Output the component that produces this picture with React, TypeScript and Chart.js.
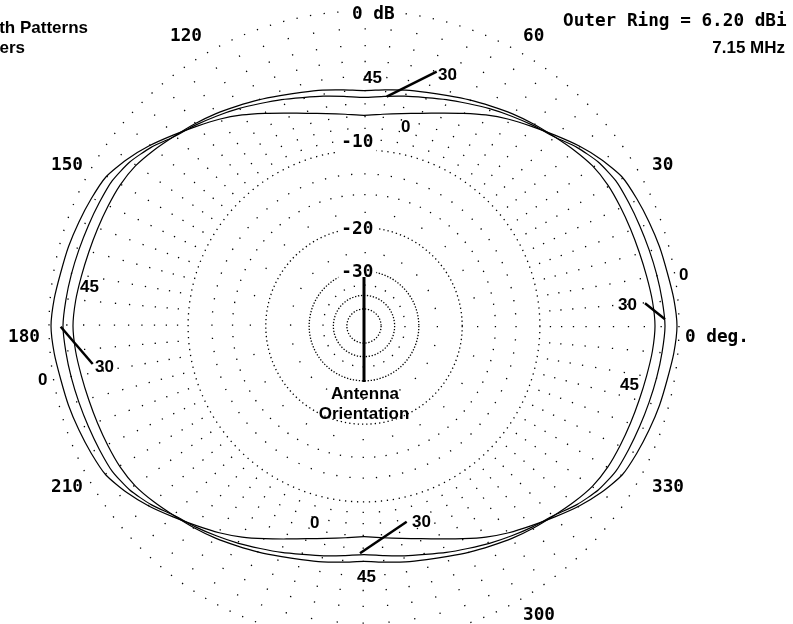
import React, { useEffect, useRef } from "react";
import { Chart, registerables } from "chart.js";

Chart.register(...registerables);

// ---------------- data ----------------
const AZIMUTH_DEG = [
  0, 5, 10, 15, 20, 25, 30, 35, 40, 45, 50, 55, 60, 65, 70, 75, 80, 85, 90,
  95, 100, 105, 110, 115, 120, 125, 130, 135, 140, 145, 150, 155, 160, 165, 170, 175, 180,
  185, 190, 195, 200, 205, 210, 215, 220, 225, 230, 235, 240, 245, 250, 255, 260, 265, 270,
  275, 280, 285, 290, 295, 300, 305, 310, 315, 320, 325, 330, 335, 340, 345, 350, 355,
];

// gain relative to the outer ring (dB) for each elevation angle
const GAIN_EL0_DB = [
  -0.11, -0.22, -0.39, -0.5, -0.64, -0.78, -0.95, -1.42, -2.0, -2.65, -3.25, -3.8, -4.4, -5.05, -5.65, -6.15, -6.5, -6.75, -6.9,
  -6.75, -6.5, -6.15, -5.65, -5.05, -4.4, -3.8, -3.25, -2.65, -2.0, -1.42, -0.95, -0.78, -0.64, -0.5, -0.39, -0.22, -0.11,
  -0.22, -0.39, -0.5, -0.64, -0.78, -0.95, -1.42, -2.0, -2.65, -3.25, -3.8, -4.4, -5.05, -5.65, -6.15, -6.5, -6.75, -6.9,
  -6.75, -6.5, -6.15, -5.65, -5.05, -4.4, -3.8, -3.25, -2.65, -2.0, -1.42, -0.95, -0.78, -0.64, -0.5, -0.39, -0.22,
];
const GAIN_EL30_DB = [
  -0.78, -0.88, -1.0, -1.12, -1.22, -1.3, -1.38, -1.66, -2.15, -2.77, -3.15, -3.53, -3.9, -4.28, -4.6, -4.92, -5.15, -5.36, -5.5,
  -5.36, -5.15, -4.92, -4.6, -4.28, -3.9, -3.53, -3.15, -2.77, -2.15, -1.66, -1.38, -1.3, -1.22, -1.12, -1.0, -0.88, -0.78,
  -0.88, -1.0, -1.12, -1.22, -1.3, -1.38, -1.66, -2.15, -2.77, -3.15, -3.53, -3.9, -4.28, -4.6, -4.92, -5.15, -5.36, -5.5,
  -5.36, -5.15, -4.92, -4.6, -4.28, -3.9, -3.53, -3.15, -2.77, -2.15, -1.66, -1.38, -1.3, -1.22, -1.12, -1.0, -0.88,
];
const GAIN_EL45_DB = [
  -1.36, -1.45, -1.6, -1.72, -1.8, -1.86, -1.92, -2.08, -2.4, -2.75, -3.05, -3.36, -3.7, -4.0, -4.3, -4.53, -4.7, -4.88, -5.0,
  -4.88, -4.7, -4.53, -4.3, -4.0, -3.7, -3.36, -3.05, -2.75, -2.4, -2.08, -1.92, -1.86, -1.8, -1.72, -1.6, -1.45, -1.36,
  -1.45, -1.6, -1.72, -1.8, -1.86, -1.92, -2.08, -2.4, -2.75, -3.05, -3.36, -3.7, -4.0, -4.3, -4.53, -4.7, -4.88, -5.0,
  -4.88, -4.7, -4.53, -4.3, -4.0, -3.7, -3.36, -3.05, -2.75, -2.4, -2.08, -1.92, -1.86, -1.8, -1.72, -1.6, -1.45,
];
const ELEVATION_LABELS = ["0", "30", "45"];

// grid rings (dB) and labelled rings
const MAJOR_RINGS_DB = [0, -10, -20, -30, -40, -50];
const MINOR_RINGS_DB = [-1, -2, -3, -4, -5, -6, -7, -8, -9, -12.5, -15, -17.5, -25, -35];
const LABELLED_RINGS_DB = [0, -10, -20, -30];
const ANGLE_TICKS_DEG = [0, 30, 60, 120, 150, 180, 210, 300, 330];

const TITLE_LINES = ["Azimuth Patterns", "Dipole, 40 Meters"];
const OUTER_RING_DBI = 6.2;
const FREQ_MHZ = 7.15;

// ARRL log scale: 0.89 per 2 dB
const arrl = (db: number) => Math.pow(0.89, -db / 2);

const MONO = 'bold 17.7px "DejaVu Sans Mono"';
const SANS = 'bold 17px "Liberation Sans"';
const DOT = 1.3;
const rad = (d: number) => (d * Math.PI) / 180;

function ringPeriod(db: number, r: number): number {
  if (db === 0) return r * rad(2.5);
  if (db === -10) return 6;
  if (db === -20) return 4.3;
  if (db <= -30 && MAJOR_RINGS_DB.includes(db)) return 3;
  if (db > -17) return r * rad(5);
  return r * rad(15);
}

const annotations = {
  id: "eznecAnnotations",
  afterDraw(chart: any) {
    const s = chart.scales.r;
    const cx = s.xCenter;
    const cy = s.yCenter;
    const ctx: CanvasRenderingContext2D = chart.ctx;
    ctx.save();
    ctx.fillStyle = "#000";
    ctx.strokeStyle = "#000";
    ctx.textBaseline = "alphabetic";

    // ring labels with white backdrop
    const ringBase: Record<string, number> = { "0": 8, "-10": -3, "-20": 6, "-30": 6 };
    ctx.font = MONO;
    const minusW = ctx.measureText("-").width;
    LABELLED_RINGS_DB.forEach((db) => {
      const r = s.getDistanceFromCenterForValue(arrl(db));
      const text = db === 0 ? "0 dB" : String(db);
      const x = cx - 12 - (db < 0 ? minusW : 0);
      const y = cy - r + ringBase[String(db)];
      const w = ctx.measureText(text).width;
      ctx.fillStyle = "#fff";
      ctx.fillRect(x - 3, y - 15, w + 6, db === -10 ? 22 : 19);
      ctx.fillStyle = "#000";
      ctx.textAlign = "left";
      ctx.fillText(text, x, y);
    });

    // antenna orientation
    ctx.lineWidth = 3;
    ctx.beginPath();
    ctx.moveTo(cx, cy - 49);
    ctx.lineTo(cx, cy + 56);
    ctx.stroke();
    ctx.font = SANS;
    ctx.textAlign = "center";
    ctx.fillText("Antenna", cx + 1, cy + 73);
    ctx.fillText("Orientation", cx, cy + 93);

    // azimuth labels
    const angPos: Record<number, [number, number, CanvasTextAlign]> = {
      0: [321, 16, "left"], 30: [288, -156, "left"], 60: [159, -285, "left"],
      120: [-162, -285, "right"], 150: [-281, -156, "right"], 180: [-324, 16, "right"],
      210: [-281, 166, "right"], 300: [159, 294, "left"], 330: [288, 166, "left"],
    };
    ctx.font = MONO;
    ANGLE_TICKS_DEG.forEach((a) => {
      const p = angPos[a];
      if (!p) return;
      ctx.textAlign = p[2];
      ctx.fillText(a === 0 ? "0 deg." : String(a), cx + p[0], cy + p[1]);
    });

    // elevation labels
    const elevPos: Array<[number, number, number]> = [
      [2, -1, -243], [1, 74, -246], [0, 37, -194],
      [0, 315, -46], [1, 254, -16], [2, 256, 64],
      [2, -284, -34], [1, -269, 46], [0, -326, 59],
      [0, -54, 202], [1, 48, 201], [2, -7, 256],
    ];
    ctx.font = SANS;
    ctx.textAlign = "left";
    elevPos.forEach(([i, dx, dy]) => ctx.fillText(ELEVATION_LABELS[i], cx + dx, cy + dy));

    // pointers to the 30 deg curve
    const ptr: Array<[number, number, number, number]> = [
      [22.7, -229.3, 72.7, -254.3],
      [301, -6.7, 281, -22.7],
      [-303.3, 0.7, -271.3, 38],
      [-4, 227.3, 42.7, 195.7],
    ];
    ctx.lineWidth = 2.5;
    ptr.forEach(([x1, y1, x2, y2]) => {
      ctx.beginPath();
      ctx.moveTo(cx + x1, cy + y1);
      ctx.lineTo(cx + x2, cy + y2);
      ctx.stroke();
    });

    // header texts
    ctx.font = MONO;
    ctx.textAlign = "left";
    ctx.fillText(`Outer Ring = ${OUTER_RING_DBI.toFixed(2)} dBi`, 563, 26);
    ctx.font = SANS;
    ctx.textAlign = "right";
    ctx.fillText(`${FREQ_MHZ.toFixed(2)} MHz`, 785, 53);
    ctx.fillText(TITLE_LINES[0], 88, 33);
    ctx.fillText(TITLE_LINES[1], 25, 53);
    ctx.restore();
  },
};

export default function App() {
  const ref = useRef<HTMLCanvasElement>(null);

  useEffect(() => {
    const canvas = ref.current;
    if (!canvas) return;
    const n = AZIMUTH_DEG.length;
    // radar goes clockwise from startAngle; azimuth goes counter-clockwise
    const order = AZIMUTH_DEG.map((_, i) => (n - i) % n);
    const labels = order.map((j) => String(AZIMUTH_DEG[j]));
    const series = [GAIN_EL0_DB, GAIN_EL30_DB, GAIN_EL45_DB];
    const ringsDb = [...MAJOR_RINGS_DB, ...MINOR_RINGS_DB].sort((a, b) => a - b);

    const chart = new Chart(canvas, {
      type: "radar",
      data: {
        labels,
        datasets: series.map((vals, k) => ({
          label: `${ELEVATION_LABELS[k]} deg elevation`,
          data: order.map((j) => arrl(vals[j])),
          borderColor: "#000",
          backgroundColor: "rgba(0,0,0,0)",
          borderWidth: 1.2,
          fill: false,
          tension: 0.2,
          pointRadius: 0,
          pointHoverRadius: 0,
          pointHitRadius: 0,
        })),
      },
      options: {
        responsive: false,
        animation: false,
        devicePixelRatio: 1,
        events: [],
        layout: { padding: { left: 49, right: 114, top: 11, bottom: 19 } },
        plugins: {
          legend: { display: false },
          tooltip: { enabled: false },
          title: { display: false },
        },
        scales: {
          r: {
            min: 0,
            max: 1,
            startAngle: 90,
            afterBuildTicks: (scale: any) => {
              scale.ticks = [{ value: 0 }, ...ringsDb.map((db) => ({ value: arrl(db), db }))];
            },
            ticks: { display: false },
            pointLabels: { display: false },
            angleLines: { display: false },
            grid: { circular: true, color: "#000", lineWidth: DOT },
            border: {
              dash: (c: any) => {
                const t = c.tick;
                if (!t || t.db === undefined) return [];
                const r = c.scale.getDistanceFromCenterForValue(t.value);
                const p = ringPeriod(t.db, r);
                return [DOT, Math.max(0.5, p - DOT)];
              },
              dashOffset: 0,
            },
          },
        },
      } as any,
      plugins: [annotations],
    });
    return () => chart.destroy();
  }, []);

  return (
    <div
      style={{
        position: "fixed",
        left: 0,
        top: 0,
        width: 793,
        height: 624,
        overflow: "hidden",
        background: "#fff",
      }}
    >
      <canvas ref={ref} width={793} height={660} style={{ display: "block" }} />
    </div>
  );
}
